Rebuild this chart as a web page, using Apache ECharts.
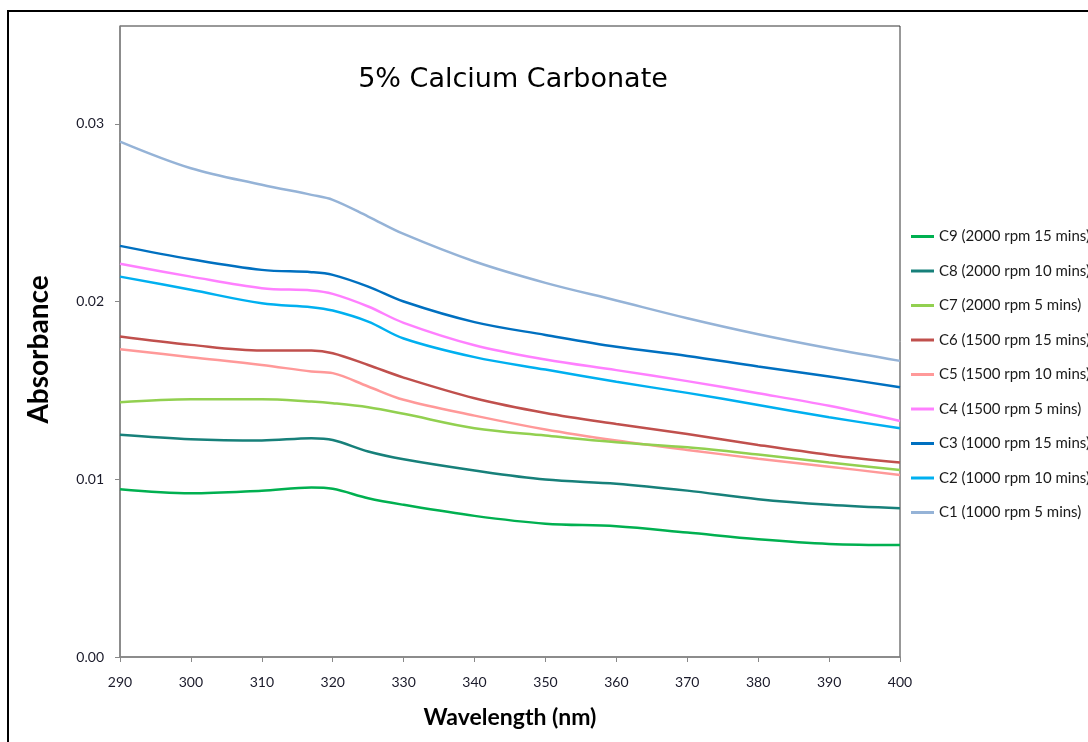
<!DOCTYPE html>
<html>
<head>
<meta charset="utf-8">
<script src="https://cdn.jsdelivr.net/npm/echarts@6/dist/echarts.min.js"></script>
<style>
  html, body { margin: 0; padding: 0; background: #fff; }
  #chart { width: 1088px; height: 742px; }
</style>
</head>
<body>
<div id="chart"></div>
<script>
// Wavelength sample points (nm)
const wavelengths = [290, 300, 310, 317, 320, 325, 330, 340, 350, 360, 370, 380, 390, 400];

// Absorbance readings per sample
const c1 = [0.0290, 0.0275, 0.02657, 0.0260, 0.02572, 0.02478, 0.0238, 0.02225, 0.02105, 0.02006, 0.01906, 0.01816, 0.01737, 0.01666];
const c2 = [0.0214, 0.02066, 0.0199, 0.01968, 0.01949, 0.01887, 0.01792, 0.01687, 0.01617, 0.01548, 0.01486, 0.01418, 0.01349, 0.01287];
const c3 = [0.02313, 0.02238, 0.02178, 0.02165, 0.0215, 0.02084, 0.0200, 0.01884, 0.01812, 0.01745, 0.01694, 0.01634, 0.01578, 0.01518];
const c4 = [0.02212, 0.0214, 0.02075, 0.02062, 0.02043, 0.01972, 0.0188, 0.01754, 0.01674, 0.01614, 0.01552, 0.01484, 0.01413, 0.01328];
const c5 = [0.01732, 0.01687, 0.01643, 0.01606, 0.01597, 0.01522, 0.01447, 0.01358, 0.0128, 0.01218, 0.01165, 0.01116, 0.01071, 0.01024];
const c6 = [0.01803, 0.01756, 0.01724, 0.01724, 0.01709, 0.01643, 0.01572, 0.01456, 0.01373, 0.01311, 0.01255, 0.01193, 0.01137, 0.01094];
const c7 = [0.01433, 0.0145, 0.0145, 0.01437, 0.01428, 0.01405, 0.01368, 0.01287, 0.01246, 0.01208, 0.0118, 0.01139, 0.01094, 0.01052];
const c8 = [0.0125, 0.01225, 0.01218, 0.01231, 0.01221, 0.01156, 0.01112, 0.01049, 0.00998, 0.00975, 0.00936, 0.00888, 0.00857, 0.00837];
const c9 = [0.00944, 0.00921, 0.00936, 0.00953, 0.00946, 0.00893, 0.00856, 0.00794, 0.0075, 0.00736, 0.007, 0.00662, 0.00636, 0.0063];

const seriesNames = [
  'C1 (1000 rpm 5 mins)', 'C2 (1000 rpm 10 mins)', 'C3 (1000 rpm 15 mins)',
  'C4 (1500 rpm 5 mins)', 'C5 (1500 rpm 10 mins)', 'C6 (1500 rpm 15 mins)',
  'C7 (2000 rpm 5 mins)', 'C8 (2000 rpm 10 mins)', 'C9 (2000 rpm 15 mins)'
];
const seriesValues = [c1, c2, c3, c4, c5, c6, c7, c8, c9];
const seriesColors = ['#95B3D7', '#00B0F0', '#0070C0', '#FF80FF', '#FF9999', '#C0504D', '#92D050', '#17807A', '#00B050'];

const yTicks = [0, 0.01, 0.02, 0.03];

const FONT = 'Lato, "Open Sans", sans-serif';

const chart = echarts.init(document.getElementById('chart'), null, { renderer: 'canvas' });

const series = seriesNames.map((name, i) => ({
  name: name,
  type: 'line',
  data: wavelengths.map((w, j) => [w, seriesValues[i][j]]),
  smooth: 0.35,
  symbol: 'none',
  lineStyle: { width: 2.5, color: seriesColors[i] },
  itemStyle: { color: seriesColors[i] },
  z: 3
}));

chart.setOption({
  animation: false,
  backgroundColor: '#fff',
  title: {
    text: '5% Calcium Carbonate',
    left: 508,
    top: 61,
    textAlign: 'center',
    textStyle: { fontFamily: '"DejaVu Sans", sans-serif', fontSize: 27, fontWeight: 'normal', color: '#000' }
  },
  legend: {
    orient: 'vertical',
    left: 906,
    top: 224,
    data: seriesNames.slice().reverse(),
    icon: 'rect',
    itemWidth: 23,
    itemHeight: 3,
    itemGap: 19.5,
    textStyle: { fontFamily: FONT, fontSize: 15, lineHeight: 15, color: '#1a1a1a' }
  },
  grid: {
    left: 120, right: 188, top: 26, bottom: 85,
    show: true, borderColor: '#333', borderWidth: 1, backgroundColor: '#fff'
  },
  xAxis: {
    type: 'value',
    min: 290, max: 400, interval: 10,
    name: 'Wavelength (nm)',
    nameLocation: 'middle',
    nameGap: 49,
    nameTextStyle: { fontFamily: FONT, fontSize: 23, fontWeight: 'bold', color: '#000' },
    axisLine: { show: true, lineStyle: { color: '#888', width: 1.5 } },
    axisTick: { show: true, inside: false, length: 5, lineStyle: { color: '#888' } },
    axisLabel: { fontFamily: FONT, fontSize: 14, color: '#1a1a2a', margin: 18 },
    splitLine: { show: false }
  },
  yAxis: {
    type: 'value',
    min: 0, max: 0.0355, interval: 0.01,
    name: 'Absorbance',
    nameLocation: 'middle',
    nameGap: 67,
    nameTextStyle: { fontFamily: FONT, fontSize: 28, fontWeight: 'bold', color: '#000', padding: [0, 16, 0, 0] },
    axisLine: { show: true, lineStyle: { color: '#888', width: 1.5 } },
    axisTick: { show: true, length: 5, lineStyle: { color: '#888' }, customValues: yTicks },
    axisLabel: {
      fontFamily: FONT, fontSize: 14, color: '#1a1a2a', margin: 16,
      customValues: yTicks,
      formatter: v => v.toFixed(2)
    },
    splitLine: { show: false }
  },
  graphic: [{
    type: 'rect',
    shape: { x: 8, y: 11, width: 1200, height: 800 },
    style: { fill: null, stroke: '#000', lineWidth: 2 },
    silent: true,
    z: 100
  }],
  series: series
});
</script>
</body>
</html>
